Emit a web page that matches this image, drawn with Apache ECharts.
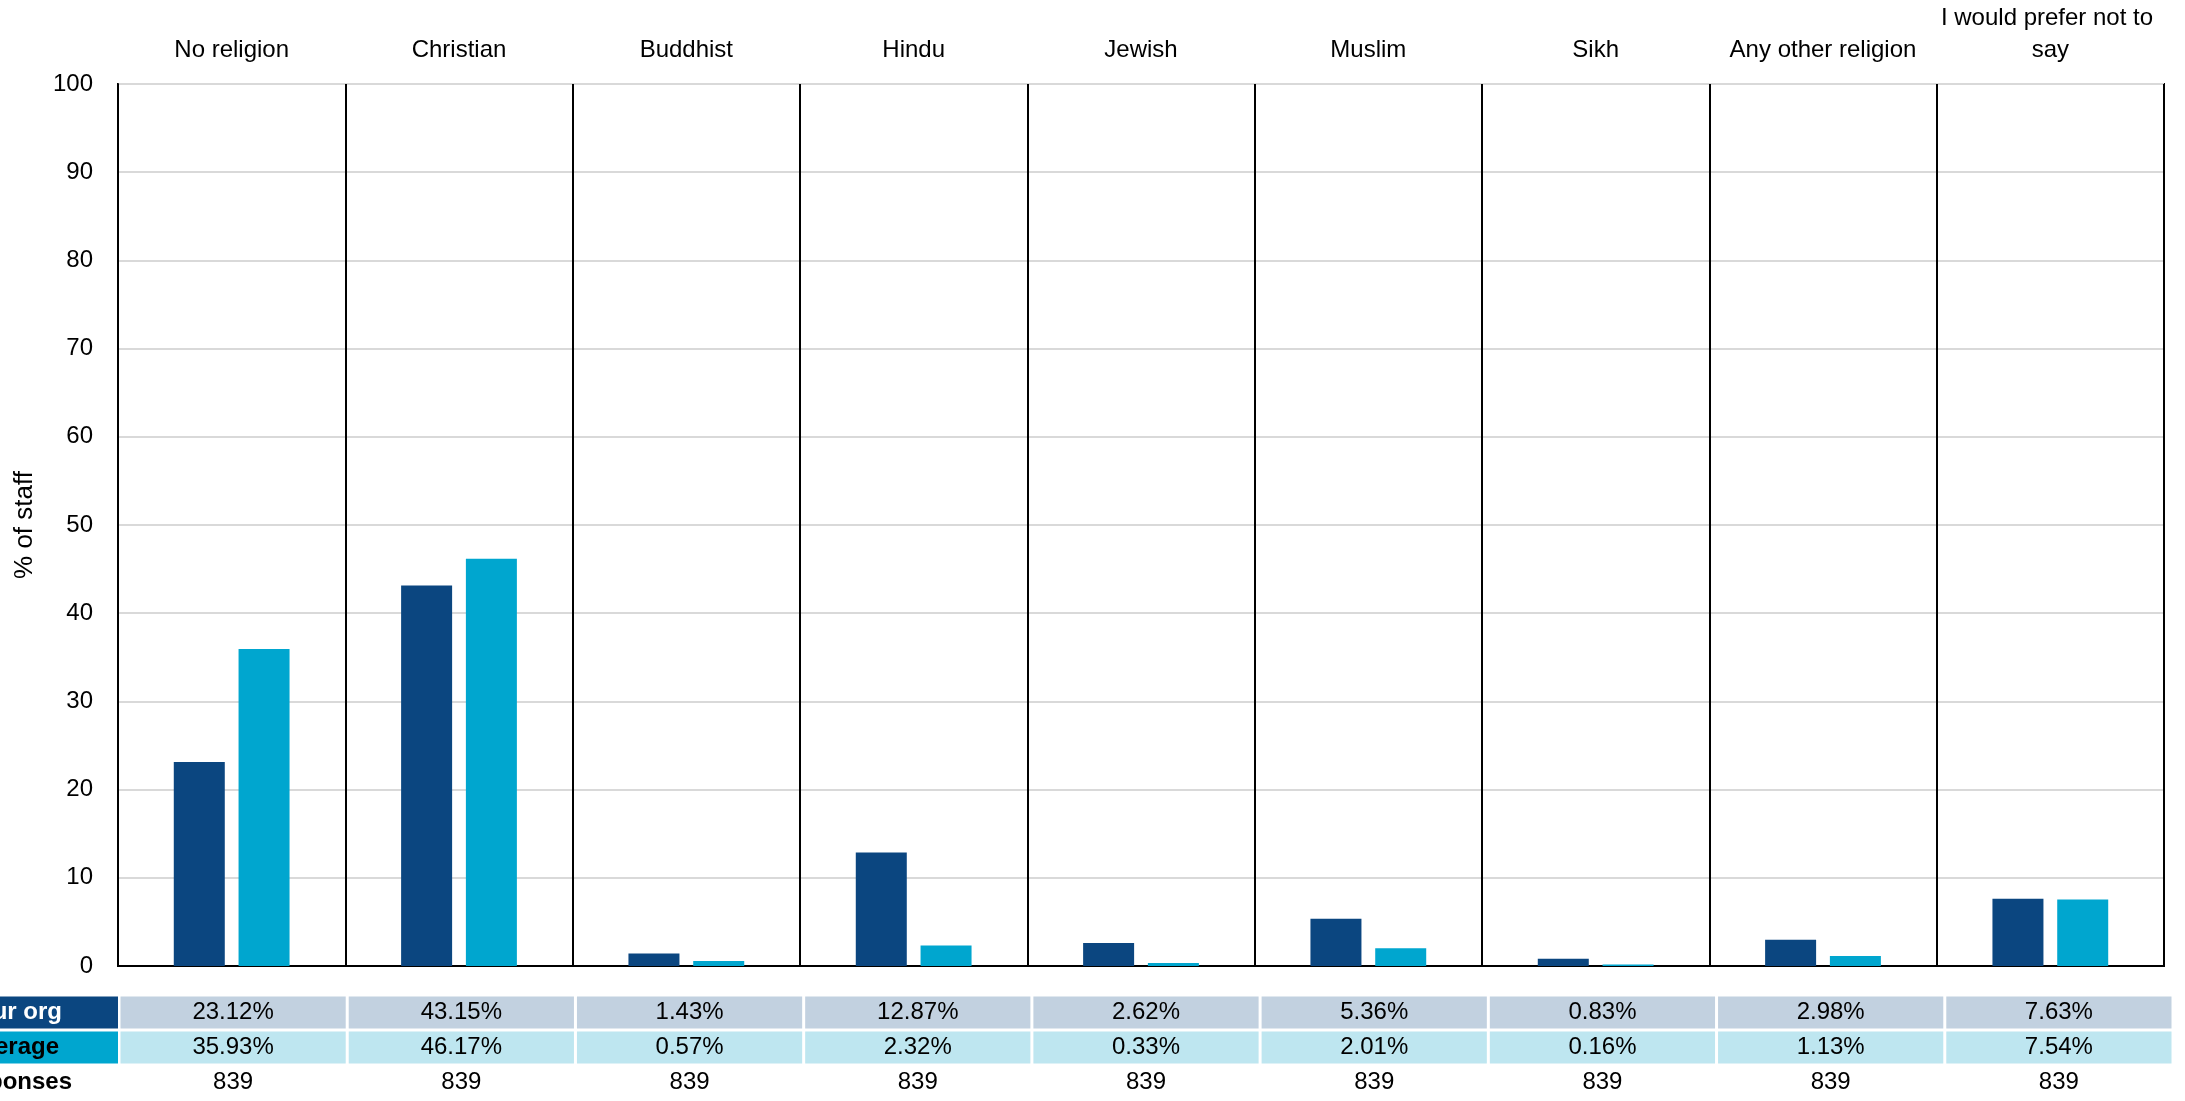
<!DOCTYPE html>
<html>
<head>
<meta charset="utf-8">
<script src="https://cdn.jsdelivr.net/npm/echarts@6/dist/echarts.min.js"></script>
<style>
html,body{margin:0;padding:0;background:#fff;}
#chart{width:2185px;height:1101px;}
</style>
</head>
<body>
<div id="chart"></div>
<script>
const categories = ['No religion', 'Christian', 'Buddhist', 'Hindu', 'Jewish', 'Muslim', 'Sikh', 'Any other religion', 'I would prefer not to say'];
const yourOrg = [23.12, 43.15, 1.43, 12.87, 2.62, 5.36, 0.83, 2.98, 7.63];
const average = [35.93, 46.17, 0.57, 2.32, 0.33, 2.01, 0.16, 1.13, 7.54];
const responses = [839, 839, 839, 839, 839, 839, 839, 839, 839];
const rowLabels = ['Your org', 'Average', 'Responses'];
const yAxisName = '% of staff';

const FONT = "'Liberation Sans', Arial, sans-serif";
const DARK = '#0b4680';
const CYAN = '#00a6cf';
const ROWBG = ['#c2d1e0', '#bee6f0', null];

const tableData = [];
categories.forEach((c, i) => {
  tableData.push([i, 0, yourOrg[i].toFixed(2) + '%']);
  tableData.push([i, 1, average[i].toFixed(2) + '%']);
  tableData.push([i, 2, String(responses[i])]);
});

const chart = echarts.init(document.getElementById('chart'), null, {renderer: 'canvas'});
chart.setOption({
  animation: false,
  backgroundColor: '#fff',
  grid: [
    {left: 118, right: 21, top: 84, bottom: 135, show: true, borderColor: '#000', borderWidth: 2, containLabel: false, outerBoundsMode: 'none'},
    {left: 119, right: 12, top: 995, height: 105, containLabel: false, outerBoundsMode: 'none'}
  ],
  xAxis: [
    {
      type: 'category', gridIndex: 0, data: categories, position: 'top',
      axisLine: {show: true, lineStyle: {color: '#000', width: 2}},
      axisTick: {show: false},
      splitLine: {show: true, interval: 0, lineStyle: {color: '#000', width: 2}},
      axisLabel: {
        interval: 0, margin: 18, fontFamily: FONT, fontSize: 24, color: '#000',
        lineHeight: 32, width: 222, overflow: 'break'
      }
    },
    {
      type: 'category', gridIndex: 1, data: categories, show: false
    }
  ],
  yAxis: [
    {
      type: 'value', gridIndex: 0, min: 0, max: 100, interval: 10,
      name: yAxisName, nameLocation: 'middle', nameGap: 80, nameRotate: 90,
      nameTextStyle: {fontFamily: FONT, fontSize: 26, color: '#000'},
      axisLine: {show: true, lineStyle: {color: '#000', width: 2}},
      axisTick: {show: false},
      splitLine: {show: true, lineStyle: {color: '#d9d9d9', width: 2}},
      axisLabel: {margin: 25, fontFamily: FONT, fontSize: 24, color: '#000'}
    },
    {
      type: 'category', gridIndex: 1, data: rowLabels, inverse: true,
      axisLine: {show: false}, axisTick: {show: false}, splitLine: {show: false},
      axisLabel: {
        margin: 1, align: 'right',
        formatter: function (v, i) { return '{r' + i + '|' + v + '}'; },
        rich: {
          r0: {width: 106, height: 32, lineHeight: 32, align: 'right', padding: [0, 56, 0, 0], backgroundColor: DARK, color: '#fff', fontWeight: 'bold', fontFamily: FONT, fontSize: 24},
          r1: {width: 103, height: 32, lineHeight: 32, align: 'right', padding: [0, 59, 0, 0], backgroundColor: CYAN, color: '#000', fontWeight: 'bold', fontFamily: FONT, fontSize: 24},
          r2: {width: 116, height: 32, lineHeight: 32, align: 'right', padding: [0, 46, 0, 0], color: '#000', fontWeight: 'bold', fontFamily: FONT, fontSize: 24}
        }
      }
    }
  ],
  series: [
    {
      name: 'Your org', type: 'bar', xAxisIndex: 0, yAxisIndex: 0, data: yourOrg,
      barWidth: 51, barGap: '27%', itemStyle: {color: DARK}
    },
    {
      name: 'Average', type: 'bar', xAxisIndex: 0, yAxisIndex: 0, data: average,
      barWidth: 51, barGap: '27%', itemStyle: {color: CYAN}
    },
    {
      type: 'custom', xAxisIndex: 1, yAxisIndex: 1, data: tableData,
      renderItem: function (params, api) {
        const x = api.value(0), y = api.value(1);
        const c = api.coord([x, y]);
        const s = api.size([1, 1]);
        const w = s[0];
        const bg = ROWBG[y];
        const children = [];
        if (bg) {
          children.push({
            type: 'rect',
            shape: {x: c[0] - w / 2 + 1.5, y: c[1] - 16, width: w - 3, height: 32},
            style: {fill: bg}
          });
        }
        children.push({
          type: 'text',
          style: {
            x: c[0], y: c[1], text: api.value(2), align: 'center', verticalAlign: 'middle',
            fill: '#000', font: '24px ' + FONT
          }
        });
        return {type: 'group', children: children};
      }
    }
  ]
});
</script>
</body>
</html>
